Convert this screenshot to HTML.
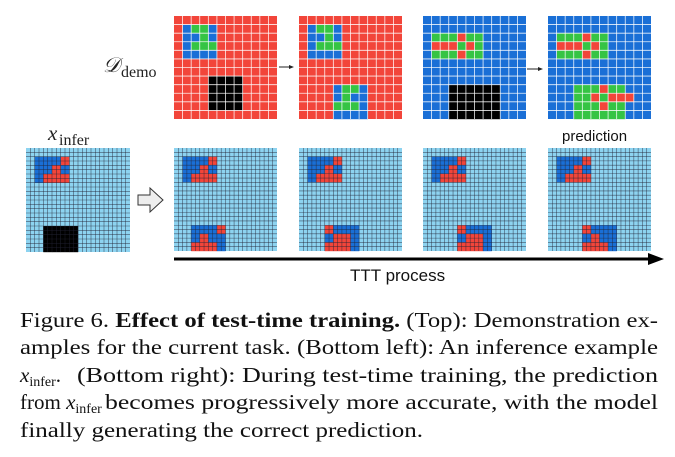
<!DOCTYPE html>
<html><head><meta charset="utf-8">
<style>html,body{margin:0;padding:0;background:#fff;}svg{display:block;}</style>
</head><body>
<svg id="fig" width="675" height="457" viewBox="0 0 675 457" xmlns="http://www.w3.org/2000/svg">
<g id="grids"></g>
<text x="103" y="72" font-family="Liberation Serif, serif" font-style="italic" font-size="21" fill="#222">𝒟</text>
<text x="121" y="77" font-family="Liberation Serif, serif" font-size="16" fill="#222">demo</text>
<text x="48" y="140" font-family="Liberation Serif, serif" font-style="italic" font-size="21" fill="#222">x</text>
<text x="59" y="145" font-family="Liberation Serif, serif" font-size="16" fill="#222">infer</text>
<text x="562" y="141" font-family="Liberation Sans, sans-serif" font-size="15" fill="#111">prediction</text>
<g><line x1="279" y1="67" x2="290" y2="67" stroke="#222" stroke-width="1"/><polygon points="289,65 294,67 289,69" fill="#222"/></g>
<g><line x1="527" y1="69" x2="539" y2="69" stroke="#222" stroke-width="1"/><polygon points="538,67 543,69 538,71" fill="#222"/></g>
<polygon points="138,195 150,195 150,188 163,200 150,212 150,205 138,205" fill="#eee" stroke="#333" stroke-width="1"/>
<g><line x1="174" y1="259" x2="650" y2="259" stroke="#000" stroke-width="3"/><polygon points="648,253 664,259 648,265" fill="#000"/></g>
<text x="350" y="281" font-family="Liberation Sans, sans-serif" font-size="17" fill="#111">TTT process</text>
<g font-family="Liberation Serif, serif" font-size="21" fill="#111">
<text x="20" y="327" textLength="638" lengthAdjust="spacingAndGlyphs">Figure 6. <tspan font-weight="bold">Effect of test-time training.</tspan> (Top): Demonstration ex-</text>
<text x="20" y="354" textLength="638" lengthAdjust="spacingAndGlyphs">amples for the current task. (Bottom left): An inference example</text>
<text x="20" y="382"><tspan font-style="italic">x</tspan><tspan font-size="14" dy="4">infer</tspan><tspan dy="-4">.</tspan></text>
<text x="77" y="382" textLength="581" lengthAdjust="spacingAndGlyphs">(Bottom right): During test-time training, the prediction</text>
<text x="20" y="409">from <tspan font-style="italic">x</tspan><tspan font-size="14" dy="4">infer</tspan></text>
<text x="105" y="409" textLength="553" lengthAdjust="spacingAndGlyphs">becomes progressively more accurate, with the model</text>
<text x="20" y="437" textLength="403" lengthAdjust="spacingAndGlyphs">finally generating the correct prediction.</text>
</g>
</svg>
<script>
const R='#f2453a',B='#1a6fd6',G='#35c444',K='#000',L='#8dd3f0';
const demo1In=[[1,1,B],[1,2,G],[1,3,G],[1,4,B],[2,1,B],[2,2,B],[2,3,G],[2,4,B],[3,1,B],[3,2,G],[3,3,G],[3,4,G],[4,1,B],[4,2,B],[4,3,B],[4,4,B]];
const demo1Black=[[7,4],[7,7],[10,4],[10,7]];
const demo2Bottom=[[8,4,B],[8,5,G],[8,6,G],[8,7,B],[9,4,B],[9,5,G],[9,6,B],[9,7,B],[10,4,G],[10,5,G],[10,6,G],[10,7,B],[11,4,B],[11,5,B],[11,6,B],[11,7,B]];
const crossTop=[[2,4,R],[3,1,R],[3,2,R],[3,3,R],[3,5,R],[4,4,R]];
const crossBottom=[[8,6,R],[9,5,R],[9,7,R],[9,8,R],[9,9,R],[10,6,R]];
const inferShape=[[1,1,B],[1,2,B],[1,3,B],[1,4,R],[2,1,B],[2,2,B],[2,3,R],[2,4,B],[3,1,B],[3,2,R],[3,3,R],[3,4,R]];
const out1=[[9,2,B],[9,3,B],[9,4,B],[9,5,R],[10,2,B],[10,3,R],[10,4,B],[10,5,B],[11,2,R],[11,3,R],[11,4,R],[11,5,B]];
const out2=[[9,3,R],[9,4,B],[9,5,B],[9,6,B],[10,3,B],[10,4,R],[10,5,R],[10,6,B],[11,3,R],[11,4,R],[11,5,R],[11,6,B]];
const out3=[[9,4,R],[9,5,B],[9,6,B],[9,7,B],[10,4,B],[10,5,R],[10,6,B],[10,7,B],[11,4,R],[11,5,R],[11,6,R],[11,7,B]];
const g=document.getElementById('grids');
const NS='http://www.w3.org/2000/svg';
function rect(p,x,y,w,h,f){const r=document.createElementNS(NS,'rect');r.setAttribute('x',x);r.setAttribute('y',y);r.setAttribute('width',w);r.setAttribute('height',h);r.setAttribute('fill',f);p.appendChild(r);return r;}
function grid(name,x0,y0,size,bg,cells,sub,lineCol){
  const grp=document.createElementNS(NS,'g');
  
  
  g.appendChild(grp);
  const c=size/12;
  rect(grp,x0,y0,size,size,bg);
  cells.forEach(([r,cc,col])=>rect(grp,x0+cc*c,y0+r*c,c+0.2,c+0.2,col));
  const n=12*sub, s=size/n;
  for(let i=1;i<n;i++){
    const l1=document.createElementNS(NS,'line');l1.setAttribute('x1',x0+i*s);l1.setAttribute('x2',x0+i*s);l1.setAttribute('y1',y0);l1.setAttribute('y2',y0+size);
    const l2=document.createElementNS(NS,'line');l2.setAttribute('y1',y0+i*s);l2.setAttribute('y2',y0+i*s);l2.setAttribute('x1',x0);l2.setAttribute('x2',x0+size);
    [l1,l2].forEach(l=>{l.setAttribute('stroke',lineCol);l.setAttribute('stroke-width',sub>1?0.6:0.8);l.setAttribute('opacity',sub>1?0.7:0.9);grp.appendChild(l);});
  }
}
function fillBlock(r0,c0,r1,c1,col){const o=[];for(let r=r0;r<=r1;r++)for(let c=c0;c<=c1;c++)o.push([r,c,col]);return o;}
const black1=fillBlock(demo1Black[0][0],demo1Black[0][1],demo1Black[2][0],demo1Black[1][1],K);
grid('demo1-input',174,16,103,R,demo1In.concat(black1),1,'#fff');
grid('demo1-output',299,16,103,R,demo1In.concat(demo2Bottom),1,'#fff');
const greenTop=fillBlock(2,1,4,6,G).concat(crossTop);
grid('demo2-input',423,16,103,B,greenTop.concat(fillBlock(8,3,11,8,K)),1,'#fff');
grid('demo2-output',548,16,103,B,greenTop.concat(fillBlock(8,3,11,8,G)).concat(crossBottom),1,'#fff');
grid('infer-input',26,148,104,L,inferShape.concat(fillBlock(9,2,11,5,K)),2,'#223');
grid('ttt-step1',174,148,103,L,inferShape.concat(out1),2,'#223');
grid('ttt-step2',299,148,103,L,inferShape.concat(out2),2,'#223');
grid('ttt-step3',423,148,103,L,inferShape.concat(out2.map(([r,c,col])=>[r,c+1,col])),2,'#223');
grid('ttt-prediction',548,148,103,L,inferShape.concat(out3),2,'#223');
</script>
</body></html>
